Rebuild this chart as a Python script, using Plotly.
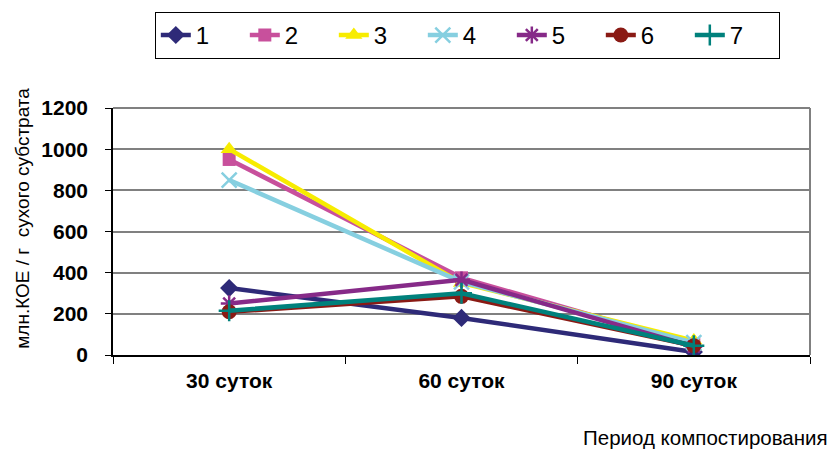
import plotly.graph_objects as go

categories = ["30 суток", "60 суток", "90 суток"]
series_names = ["1", "2", "3", "4", "5", "6", "7"]
s1 = [325, 180, 15]
s2 = [950, 375, 50]
s3 = [1000, 350, 70]
s4 = [850, 355, 60]
s5 = [250, 365, 40]
s6 = [210, 285, 45]
s7 = [215, 300, 45]
y_ticks = [0, 200, 400, 600, 800, 1000, 1200]

values = [s1, s2, s3, s4, s5, s6, s7]
colors = ["#2E2A78", "#C8509C", "#F7EC00", "#86CFE0", "#862A88", "#8A1A14", "#00817C"]
symbols = ["diamond", "square", "triangle-up", "x-thin-open", "asterisk-open", "circle", "cross-thin-open"]
msizes = [14, 13, 15, 15, 14, 15, 15]

FONT = "Liberation Sans, Arial, sans-serif"

fig = go.Figure()
for name, vals, c, sym, ms in zip(series_names, values, colors, symbols, msizes):
    open_sym = sym.endswith("-open")
    fig.add_trace(go.Scatter(
        x=categories, y=vals, name=name, mode="lines+markers",
        line=dict(color=c, width=4.5),
        marker=dict(symbol=sym, size=ms, color=c,
                    line=dict(color=c, width=2.5 if open_sym else 0)),
    ))

fig.update_layout(
    width=832, height=449,
    margin=dict(l=113, r=22, t=108, b=94),
    paper_bgcolor="white", plot_bgcolor="white",
    font=dict(family=FONT, color="black"),
    showlegend=True,
    legend=dict(
        orientation="h", x=0.06, y=1.389, xanchor="left", yanchor="top",
        bordercolor="black", borderwidth=1, bgcolor="white",
        font=dict(size=24, family=FONT), entrywidth=44,
    ),
    xaxis=dict(
        type="category", range=[-0.5, 2.5],
        showline=True, linecolor="black", linewidth=1.5,
        ticks="outside", ticklen=7, tickcolor="black", tickson="boundaries",
        tickfont=dict(size=21, family=FONT, weight="bold"),
        showgrid=False, ticklabelstandoff=6,
    ),
    yaxis=dict(
        range=[0, 1200], tickvals=y_ticks, showline=True, linecolor="black",
        linewidth=1.5, ticks="outside", ticklen=6, tickcolor="black",
        tickfont=dict(size=21, family=FONT, weight="bold"),
        showgrid=True, gridcolor="#808080", gridwidth=1.5,
        zeroline=False, ticklabelstandoff=13,
    ),
    annotations=[
        dict(text="млн.КОЕ / г  сухого субстрата", textangle=-90,
             xref="paper", yref="paper", x=-0.129, y=0.552,
             xanchor="center", yanchor="middle", showarrow=False,
             font=dict(size=19, family=FONT)),
        dict(text="Период компостирования", xref="paper", yref="paper",
             x=1.029, y=-0.336, xanchor="right", yanchor="middle",
             showarrow=False, font=dict(size=20.5, family=FONT)),
    ],
    shapes=[
        dict(type="line", xref="paper", yref="paper", x0=1, x1=1, y0=0, y1=1,
             line=dict(color="#808080", width=2)),
        dict(type="line", xref="paper", yref="paper", x0=0, x1=1, y0=1, y1=1,
             line=dict(color="#808080", width=2)),
    ],
)

fig.write_html("out.html")
